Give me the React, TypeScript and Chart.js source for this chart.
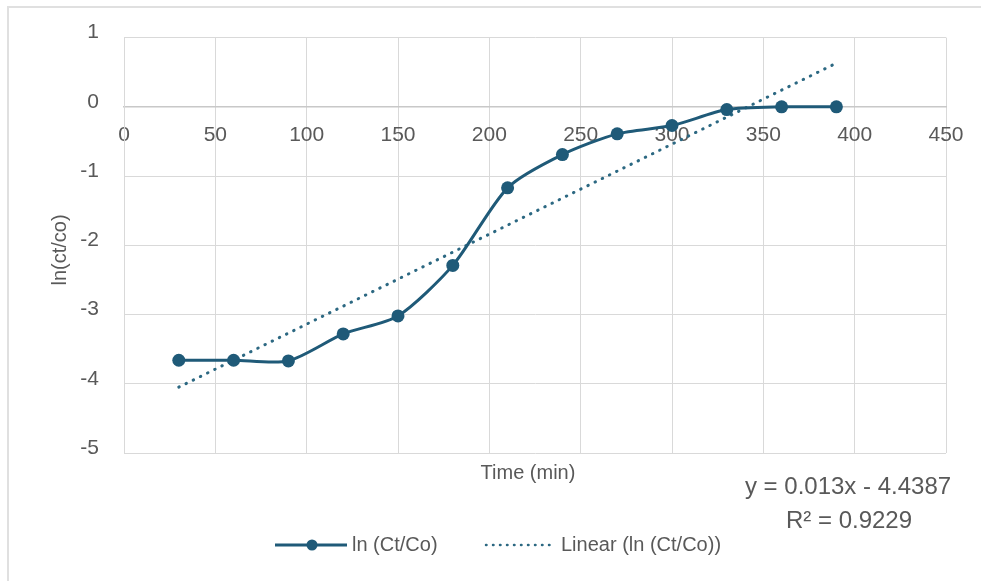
import React, { useEffect, useRef } from "react";
import { Chart, registerables } from "chart.js";

Chart.register(...registerables);

const timeMin = [30, 60, 90, 120, 150, 180, 210, 240, 270, 300, 330, 360, 390];
const lnCtCo = [-3.66, -3.66, -3.67, -3.28, -3.02, -2.29, -1.17, -0.69, -0.39, -0.27, -0.04, 0, 0];
const trendSlope = 0.013;
const trendIntercept = -4.4387;
const seriesLabel = "ln (Ct/Co)";
const trendLabel = "Linear (ln (Ct/Co))";
const equationText = "y = 0.013x - 4.4387";
const r2Text = "R² = 0.9229";
const xTitle = "Time (min)";
const yTitle = "ln(ct/co)";

const FONT = "'Liberation Sans', Arial, sans-serif";
const TEXT = "#595959";
const LINE = "#1f5a78";
const TREND = "#2c6882";

const overlay = {
  id: "overlay",
  afterDraw(chart: any) {
    const ctx = chart.ctx;
    ctx.save();
    ctx.fillStyle = TEXT;
    ctx.textAlign = "center";
    ctx.textBaseline = "middle";
    // y title
    ctx.save();
    ctx.translate(60, 250);
    ctx.rotate(-Math.PI / 2);
    ctx.font = `20px ${FONT}`;
    ctx.fillText(yTitle, 0, 0);
    ctx.restore();
    // x title
    ctx.font = `20px ${FONT}`;
    ctx.fillText(xTitle, 528, 473);
    // equation
    ctx.font = `24px ${FONT}`;
    ctx.fillText(equationText, 848, 487);
    ctx.fillText(r2Text, 849, 521);
    // legend
    const ly = 545;
    ctx.strokeStyle = LINE;
    ctx.lineWidth = 3;
    ctx.beginPath();
    ctx.moveTo(275, ly);
    ctx.lineTo(347, ly);
    ctx.stroke();
    ctx.fillStyle = LINE;
    ctx.beginPath();
    ctx.arc(312, ly, 5.5, 0, Math.PI * 2);
    ctx.fill();
    ctx.strokeStyle = TREND;
    ctx.lineWidth = 2.5;
    ctx.lineCap = "round";
    ctx.setLineDash([0.5, 6.5]);
    ctx.beginPath();
    ctx.moveTo(486, ly);
    ctx.lineTo(553, ly);
    ctx.stroke();
    ctx.setLineDash([]);
    ctx.fillStyle = TEXT;
    ctx.textAlign = "left";
    ctx.font = `20px ${FONT}`;
    ctx.fillText(seriesLabel, 352, ly);
    ctx.fillText(trendLabel, 561, ly);
    ctx.restore();
  },
};

export default function App() {
  const ref = useRef<HTMLCanvasElement | null>(null);
  useEffect(() => {
    if (!ref.current) return;
    const x0 = timeMin[0];
    const x1 = timeMin[timeMin.length - 1];
    const chart = new Chart(ref.current, {
      type: "scatter",
      data: {
        datasets: [
          {
            label: seriesLabel,
            data: timeMin.map((t, i) => ({ x: t, y: lnCtCo[i] })),
            showLine: true,
            borderColor: LINE,
            backgroundColor: LINE,
            borderWidth: 3,
            pointRadius: 6.5,
            pointBackgroundColor: LINE,
            pointBorderWidth: 0,
            tension: 0.25,
            order: 1,
          },
          {
            label: trendLabel,
            data: [
              { x: x0, y: trendSlope * x0 + trendIntercept },
              { x: x1, y: trendSlope * x1 + trendIntercept },
            ],
            showLine: true,
            borderColor: TREND,
            borderWidth: 3,
            borderCapStyle: "round",
            borderDash: [0.5, 7.5],
            pointRadius: 0,
            order: 2,
          },
        ],
      },
      options: {
        animation: false,
        responsive: false,
        layout: { padding: { top: 37, right: 35, bottom: 128, left: 0 } },
        plugins: { legend: { display: false }, tooltip: { enabled: false } },
        scales: {
          x: {
            type: "linear",
            min: 0,
            max: 450,
            position: { y: 0 } as any,
            ticks: {
              stepSize: 50,
              color: TEXT,
              font: { family: FONT, size: 21 },
              padding: 16,
              maxRotation: 0,
            },
            grid: { color: "#d9d9d9", drawTicks: false, lineWidth: 1 },
            border: { color: "#c8c8c8", width: 1.5 },
          },
          y: {
            type: "linear",
            min: -5,
            max: 1,
            ticks: {
              stepSize: 1,
              color: TEXT,
              font: { family: FONT, size: 21 },
              padding: 25,
              labelOffset: -5,
            },
            grid: { color: "#d9d9d9", drawTicks: false, lineWidth: 1 },
            border: { color: "#d9d9d9" },
            afterFit: (s: any) => {
              s.width = 124;
            },
          },
        },
      },
      plugins: [overlay],
    });
    return () => chart.destroy();
  }, []);
  return (
    <div style={{ position: "fixed", left: 0, top: 0, width: 981, height: 581, background: "#fff" }}>
      <div
        style={{
          position: "absolute",
          left: 7,
          top: 6,
          right: 0,
          bottom: 0,
          borderLeft: "2px solid #e0e0e0",
          borderTop: "2px solid #e0e0e0",
        }}
      />
      <canvas ref={ref} width={981} height={581} style={{ position: "absolute", left: 0, top: 0 }} />
    </div>
  );
}
